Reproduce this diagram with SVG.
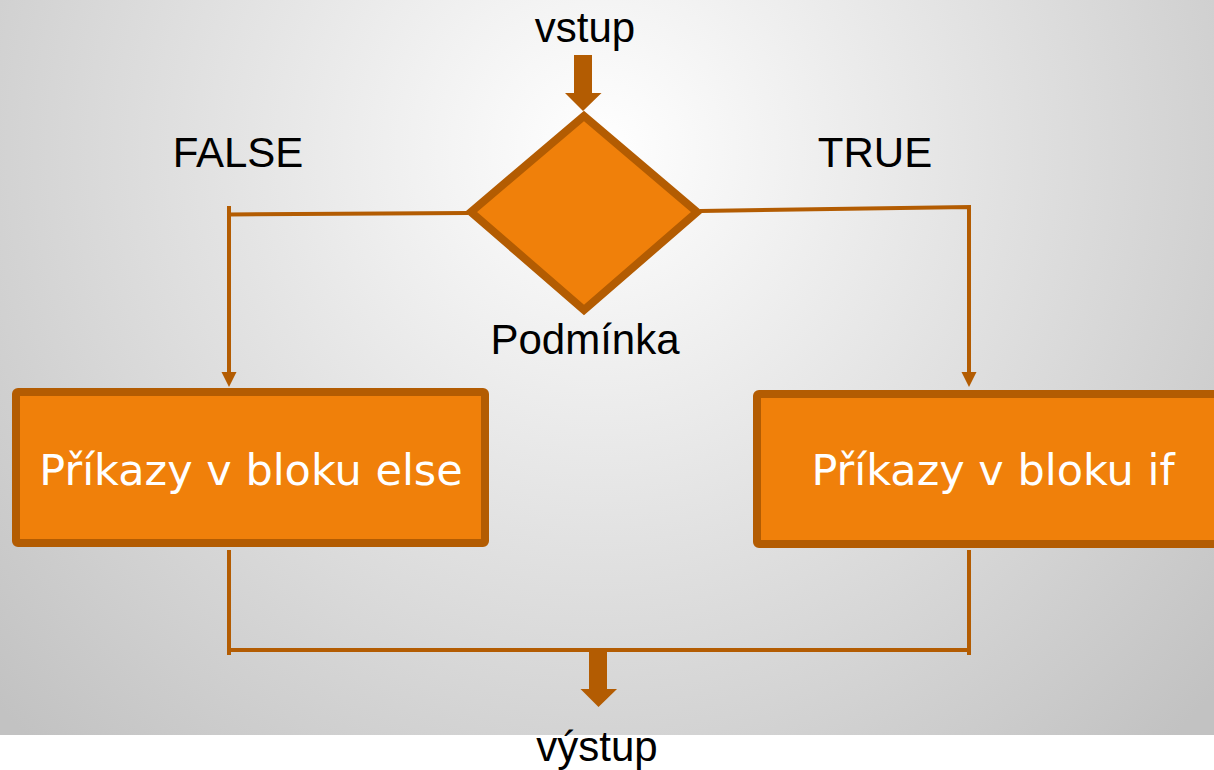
<svg xmlns="http://www.w3.org/2000/svg" width="1214" height="770" viewBox="0 0 1214 770">
<defs>
<radialGradient id="bg" gradientUnits="userSpaceOnUse" cx="600" cy="150" r="820">
<stop offset="0" stop-color="#ffffff"/>
<stop offset="1" stop-color="#c2c2c2"/>
</radialGradient>
<style>
.lbl{font-family:"Liberation Sans",Arial,sans-serif;font-size:42px;fill:#000;text-anchor:middle}
.box{fill:#f0800a;stroke:#b35c02;stroke-width:8}
.btxt{font-family:"DejaVu Sans",Verdana,sans-serif;font-size:43px;fill:#fff;text-anchor:middle}
.ln{fill:none;stroke:#b35c02;stroke-width:4}
.big{fill:#b35c02}
</style>
</defs>
<rect x="0" y="0" width="1214" height="735" fill="url(#bg)"/>
<rect x="0" y="735" width="1214" height="35" fill="#ffffff"/>
<g id="connectors">
<path class="ln" d="M468,213 L229,214.5 M229,206 L229,372"/>
<path d="M221.5,372 L236.5,372 L229,387 Z" fill="#b35c02"/>
<path class="ln" d="M700,211 L969,207 L969,372"/>
<path d="M961.5,372 L976.5,372 L969,387 Z" fill="#b35c02"/>
<path class="ln" d="M229,550 L229,655 M969,550 L969,655 M229,650 L969,650"/>
<path class="big" d="M574,55 L592,55 L592,93 L601.5,93 L583,111 L565,93 L574,93 Z"/>
<path class="big" d="M589,652 L607,652 L607,689 L617,689 L598.5,707 L580.5,689 L589,689 Z"/>
</g>
<g id="input"><text class="lbl" x="585" y="42">vstup</text></g>
<g id="condition">
<path class="box" stroke-width="9" stroke-linejoin="miter" d="M584,116 L697,212 L584,310 L471,212 Z"/>
<text class="lbl" x="585" y="354">Podmínka</text>
</g>
<g id="label-false"><text class="lbl" x="238" y="167">FALSE</text></g>
<g id="label-true"><text class="lbl" x="875" y="167">TRUE</text></g>
<g id="else-block">
<rect class="box" x="16" y="392" width="469" height="151" rx="2"/>
<text class="btxt" x="251" y="485">Příkazy v bloku else</text>
</g>
<g id="if-block">
<rect class="box" x="757" y="394" width="480" height="150" rx="2"/>
<text class="btxt" x="993" y="485">Příkazy v bloku if</text>
</g>
<g id="output"><text class="lbl" x="597" y="761">výstup</text></g>
</svg>
